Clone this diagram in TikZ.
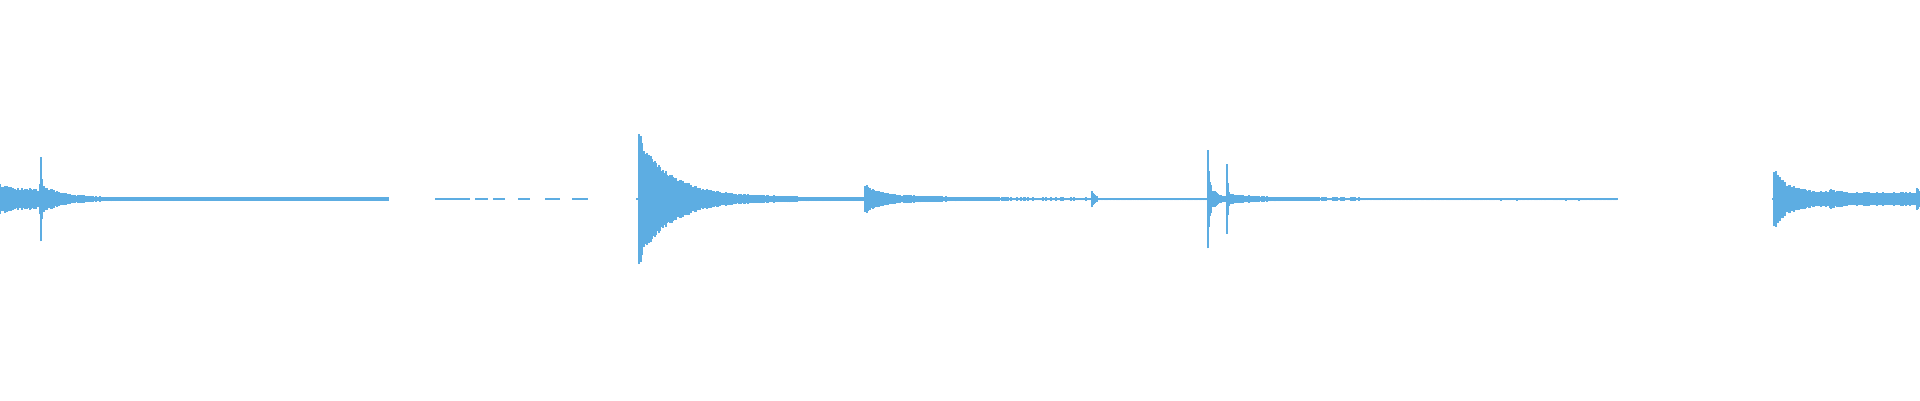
\documentclass[tikz,border=0pt]{standalone}
\definecolor{wavecol}{RGB}{93,173,226}
\tikzset{wave/.style={wavecol,line width=1.3pt},
  baseline/.style={wavecol,line width=1.5pt}}
\newcommand\wmid{201}
% burst from #1 to #2, peak #3, decay #4, floor #5
\newcommand\burst[5]{\foreach \x in {#1,...,#2}{%
  \pgfmathsetmacro\h{(#3*exp(-(\x-#1)/#4)+#5)*(0.75+0.25*rnd)}%
  \draw[wave] (\x,\wmid-\h) -- (\x,\wmid+\h);}}
\begin{document}
\begin{tikzpicture}[x=1pt,y=1pt]
  \useasboundingbox (0,0) rectangle (1920,400);
  \pgfmathsetseed{7}
  % thin trace
  \draw[baseline] (0,\wmid) -- (388,\wmid);
  \foreach \a/\b in {435/470,475/488,493/505,518/530,545/560,572/588}
    \draw[baseline] (\a,\wmid) -- (\b,\wmid);
  \draw[baseline] (636,\wmid) -- (1500,\wmid);
  \foreach \a/\b in {1505/1530,1534/1617}
    \draw[baseline] (\a,\wmid) -- (\b,\wmid);
  \draw[baseline] (1772,\wmid) -- (1920,\wmid);
  % first burst
  \burst{0}{40}{7}{30}{8}
  \burst{40}{388}{14}{20}{2}
  \burst{41}{43}{55}{1}{0}
  % second burst
  \burst{639}{790}{68}{30}{3}
  \burst{790}{865}{2}{10}{2}
  \burst{865}{905}{13}{16}{3}
  \burst{905}{1090}{3}{40}{1.5}
  \burst{1092}{1097}{9}{3}{1}
  \burst{1098}{1207}{0}{1}{1.5}
  \burst{1208}{1214}{50}{2}{3}
  \burst{1214}{1226}{8}{5}{2}
  \burst{1227}{1230}{42}{1}{2}
  \burst{1230}{1617}{4}{30}{1.5}
  % last burst
  \burst{1774}{1920}{24}{15}{7}
  \burst{1830}{1845}{4}{20}{6}
  \burst{1917}{1919}{12}{5}{0}
\end{tikzpicture}
\end{document}
